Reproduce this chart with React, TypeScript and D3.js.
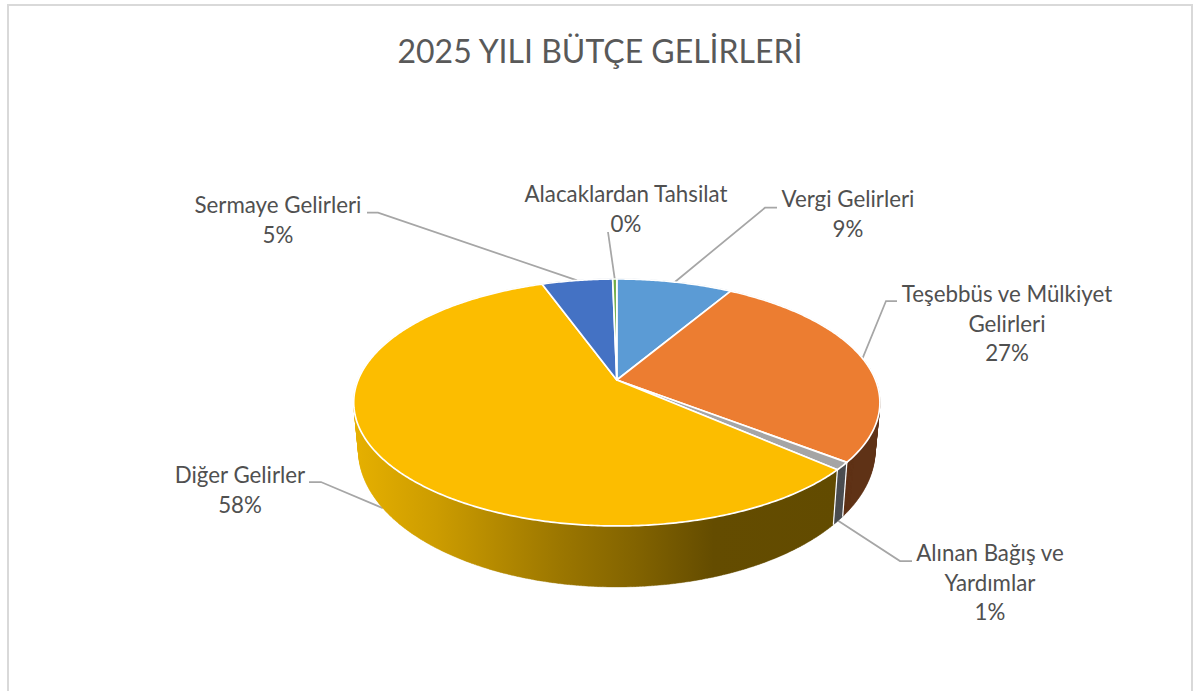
import React from "react";
import * as d3 from "d3";

const titleText = "2025 YILI BÜTÇE GELİRLERİ";
const categories = ["Vergi Gelirleri", "Teşebbüs ve Mülkiyet Gelirleri", "Alınan Bağış ve Yardımlar", "Diğer Gelirler", "Sermaye Gelirleri", "Alacaklardan Tahsilat"];
const values = [8.5, 27, 1, 58, 5.2, 0.3];
const percentLabels = ["9%", "27%", "1%", "58%", "5%", "0%"];
const labelLines = [["Vergi Gelirleri"], ["Teşebbüs ve Mülkiyet", "Gelirleri"], ["Alınan Bağış ve", "Yardımlar"], ["Diğer Gelirler"], ["Sermaye Gelirleri"], ["Alacaklardan Tahsilat"]];
const sliceColors = ["#5b9bd5", "#ec7d31", "#a5a5a5", "#fcbd00", "#4472c4", "#70ad47"];
const wallColors = ["#325a7f", "#5f3216", "#4c4e52", "url(#wallGold)", "#2a4575", "#43682a"];

const W = 1204, H = 691;
const CX = 616.8, K = 0.182;
const top = { y: 380, a: 258.7, b: 119.4 };
const bottom = { y: 425.4, a: 258.1 * 0.984, b: 119.4 * 1.107 };
type Disc = typeof top;

const project = (d: Disc, ang: number): [number, number] => {
  const u = Math.sin(ang), v = Math.cos(ang), w = 1 + K * v;
  return [CX + (d.a * u) / w, d.y - (d.b * v) / w];
};
const arcPts = (d: Disc, a0: number, a1: number) => {
  const n = Math.max(2, Math.ceil(Math.abs(a1 - a0) / 0.01));
  return d3.range(n + 1).map((i) => project(d, a0 + ((a1 - a0) * i) / n));
};
const line = d3.line();
const arcs = d3.pie<number>().sort(null).value((d) => d).startAngle(0).endAngle(2 * Math.PI)(values);

// label layout: centre x, first baseline, elbow, and which disc the leader ends on
const layout = [
  { x: 848, y: 207, sx: 777, ex: 765, ey: 207.7, onBottom: false },
  { x: 1007, y: 302, sx: 897, ex: 886, ey: 301, onBottom: false },
  { x: 990, y: 561, sx: 912, ex: 900, ey: 561, onBottom: true },
  { x: 240, y: 483, sx: 309, ex: 321, ey: 482, onBottom: true },
  { x: 278, y: 213, sx: 367, ex: 378, ey: 212.7, onBottom: false },
  { x: 626, y: 202, sx: 608, ex: 608, ey: 232, onBottom: false },
];
const lineGap = 29.6;
const font = "Lato, 'Open Sans', sans-serif";

// The wall of a slice is the union of one quad per arc step, so that it fills the silhouette fully.
const wallPath = (a0: number, a1: number) => {
  const t = arcPts(top, a0, a1);
  const b = arcPts(bottom, a0, a1);
  return d3.range(t.length - 1).map((i) => line([t[i], t[i + 1], b[i + 1], b[i]])! + "Z").join("");
};

export default function App() {
  const wallOrder = [0, 5, 4, 1, 3, 2];
  return (
    <svg width={W} height={H} viewBox={`0 0 ${W} ${H}`} style={{ position: "fixed", left: 0, top: 0, background: "#fff" }}>
      <defs>
        <linearGradient id="wallGold" gradientUnits="userSpaceOnUse" x1={354} x2={840} y1={0} y2={0}>
          <stop offset="0" stopColor="#e6b000" />
          <stop offset="0.17" stopColor="#cc9c00" />
          <stop offset="0.42" stopColor="#9c7700" />
          <stop offset="0.58" stopColor="#826300" />
          <stop offset="0.74" stopColor="#644c00" />
          <stop offset="1" stopColor="#624b00" />
        </linearGradient>
      </defs>
      <path d={`M8,${H} V5 H1192 V${H}`} fill="none" stroke="#d9d9d9" strokeWidth={2} />
      <text x={600} y={63} textAnchor="middle" fontFamily={font} fontSize={32} fill="#595959">{titleText}</text>

      {/* leader lines */}
      {arcs.map((a, i) => {
        const l = layout[i];
        const mid = (a.startAngle + a.endAngle) / 2;
        const end = project(l.onBottom ? bottom : top, mid);
        return <path key={categories[i]} d={line([[l.sx, l.ey], [l.ex, l.ey], end])!} fill="none" stroke="#a6a6a6" strokeWidth={1.75} />;
      })}

      {/* outer walls */}
      {wallOrder.map((i) => {
        const a = arcs[i];
        return <path key={i} d={wallPath(a.startAngle, a.endAngle)} fill={wallColors[i]} stroke={wallColors[i]} strokeWidth={0.4} />;
      })}
      {/* white seams between walls */}
      {arcs.map((a, i) => (
        <path key={i} d={line([project(top, a.startAngle), project(bottom, a.startAngle)])!} stroke="#fff" strokeWidth={1.2} fill="none" />
      ))}

      {/* top face */}
      {arcs.map((a, i) => (
        <path key={i} d={line([[CX, top.y], ...arcPts(top, a.startAngle, a.endAngle)])! + "Z"} fill={sliceColors[i]} stroke="#fff" strokeWidth={1.7} strokeLinejoin="round" />
      ))}

      {/* labels */}
      {categories.map((c, i) => {
        const l = layout[i];
        const lines = [...labelLines[i], percentLabels[i]];
        return (
          <text key={c} textAnchor="middle" fontFamily={font} fontSize={22.3} fill="#505050">
            {lines.map((t, j) => (
              <tspan key={j} x={l.x} y={l.y + j * lineGap}>{t}</tspan>
            ))}
          </text>
        );
      })}
    </svg>
  );
}
